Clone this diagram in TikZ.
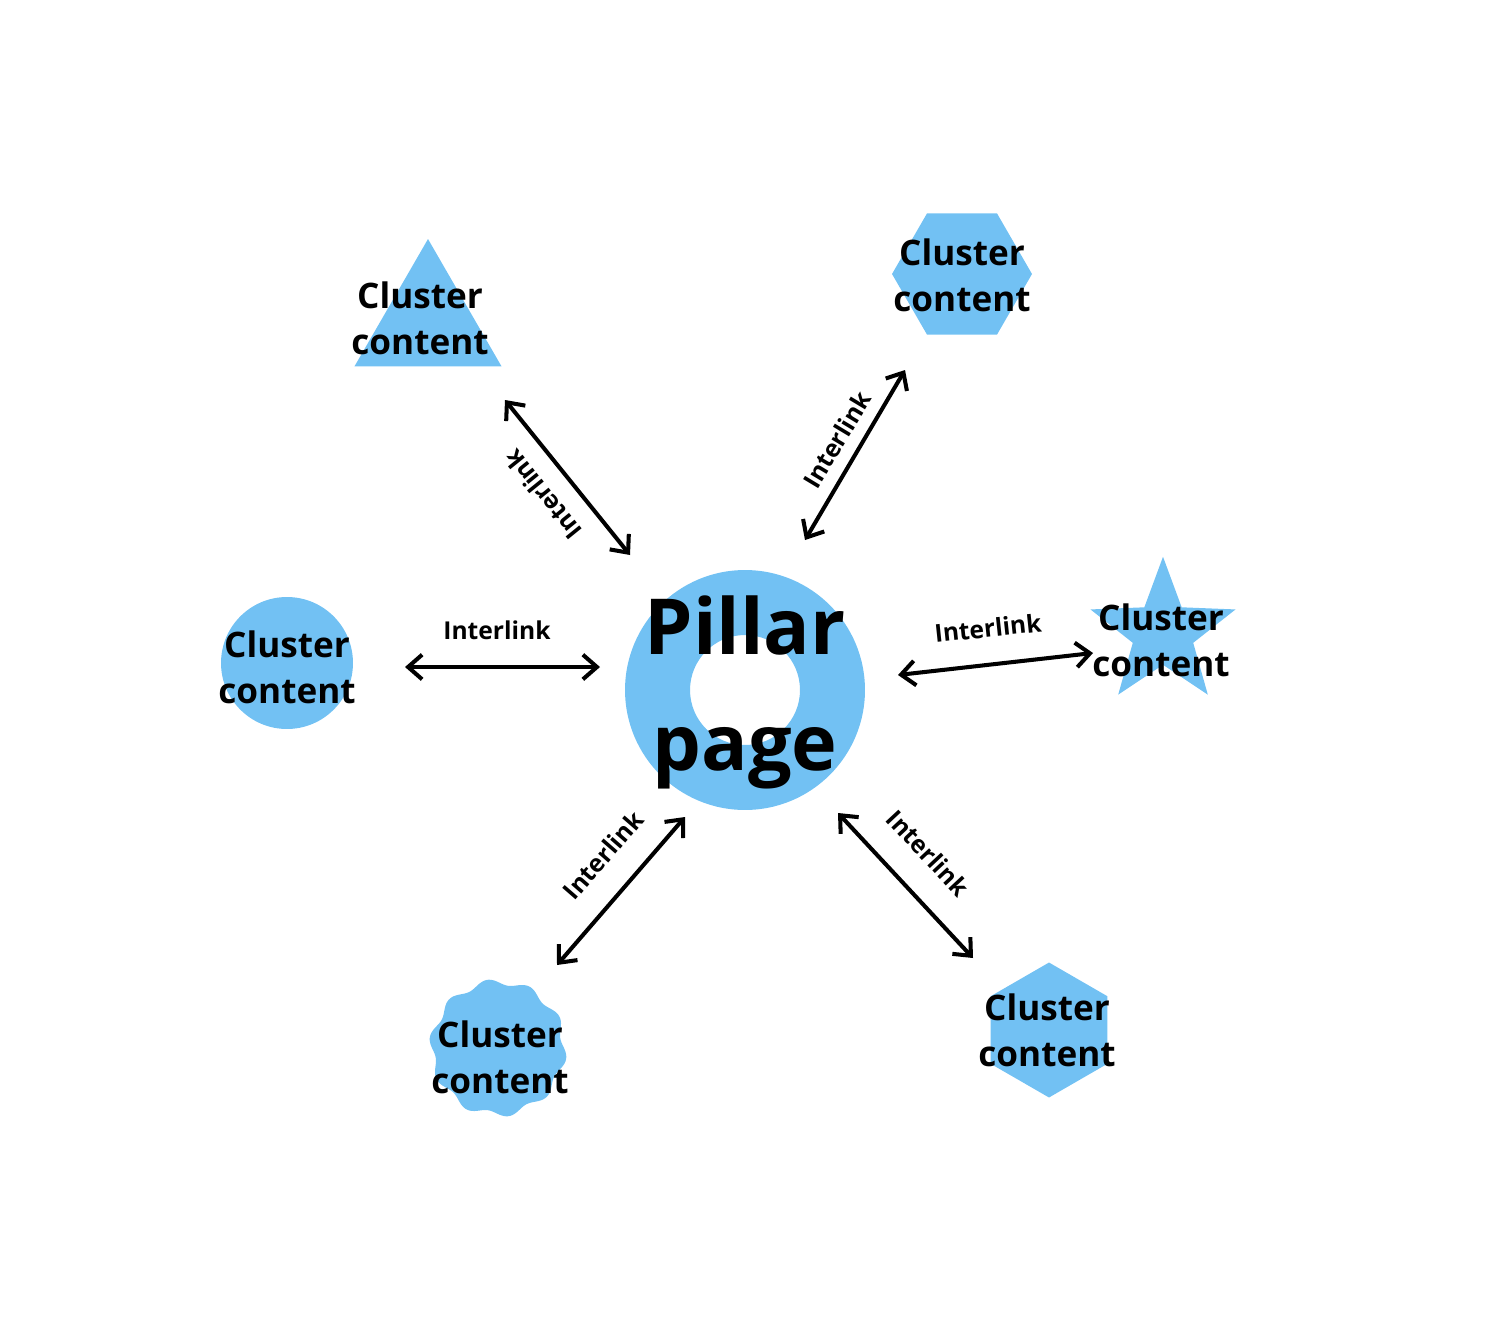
\documentclass[tikz,border=0pt]{standalone}
\usepackage{fontspec}
\setmainfont{Open Sans}
\usetikzlibrary{shapes.geometric,arrows.meta}
\definecolor{skyblue}{HTML}{72C1F3}
\tikzset{
  blob/.style={fill=skyblue,draw=none,inner sep=0pt},
  lbl/.style={font=\bfseries\fontsize{20}{26}\selectfont,align=center,text=black,inner sep=0pt},
  tag/.style={font=\bfseries\fontsize{14}{17}\selectfont,inner sep=0pt},
  link/.style={{Straight Barb[length=8pt,width=14pt]}-{Straight Barb[length=8pt,width=14pt]},line width=2.3pt},
}
\begin{document}
\begin{tikzpicture}[x=0.02cm,y=-0.02cm]
\useasboundingbox (0,0) rectangle (1500,1318);
%
  \node (tri) [blob,regular polygon,regular polygon sides=3,minimum size=3.4cm] at (428,324) {};
  \node (hexa) [blob,regular polygon,regular polygon sides=6,minimum size=2.8cm] at (962,274) {};
  \node (circ) [blob,circle,minimum size=2.64cm] at (287,663) {};
  \node (star) [blob,star,star points=5,star point ratio=2.4,minimum size=3.05cm] at (1163,633) {};
  \node (hexb) [blob,regular polygon,regular polygon sides=6,shape border rotate=30,minimum size=2.7cm] at (1049,1030) {};
  \fill[skyblue] plot[domain=0:360,samples=200,smooth] ({498+(66+3*sin(10*\x))*cos(\x)},{1048+(66+3*sin(10*\x))*sin(\x)});
  \node (wavy) at (498,1048) {};
%
  \fill[skyblue,even odd rule] (745,690) circle[radius=2.4cm] (745,690) circle[radius=1.1cm];
  \node (pillar) [lbl,font=\bfseries\fontsize{44}{66}\selectfont] at (745,692) {Pillar\\page};
%
  \node [lbl] at (420,318) {Cluster\\content};
  \node [lbl] at (962,275) {Cluster\\content};
  \node [lbl] at (287,667) {Cluster\\content};
  \node [lbl] at (1161,640) {Cluster\\content};
  \node [lbl] at (500,1057) {Cluster\\content};
  \node [lbl] at (1047,1030) {Cluster\\content};
%
  \coordinate (a1) at (505,400); \coordinate (b1) at (630,555);
  \coordinate (a2) at (905,370); \coordinate (b2) at (805,540);
  \coordinate (a3) at (405,667); \coordinate (b3) at (600,667);
  \coordinate (a4) at (898,675); \coordinate (b4) at (1093,653);
  \coordinate (a5) at (685,817); \coordinate (b5) at (557,965);
  \coordinate (a6) at (838,813); \coordinate (b6) at (973,958);
%
  \draw [link] (a1) -- (b1);
  \draw [link] (a2) -- (b2);
  \draw [link] (a3) -- (b3);
  \draw [link] (a4) -- (b4);
  \draw [link] (a5) -- (b5);
  \draw [link] (a6) -- (b6);
%
  \node [tag,rotate=129] at (543,495) {Interlink};
  \node [tag,rotate=59] at (837,440) {Interlink};
  \node [tag] at (497,630) {Interlink};
  \node [tag,rotate=6] at (988,628) {Interlink};
  \node [tag,rotate=49] at (603,855) {Interlink};
  \node [tag,rotate=-47] at (928,853) {Interlink};
\end{tikzpicture}
\end{document}
